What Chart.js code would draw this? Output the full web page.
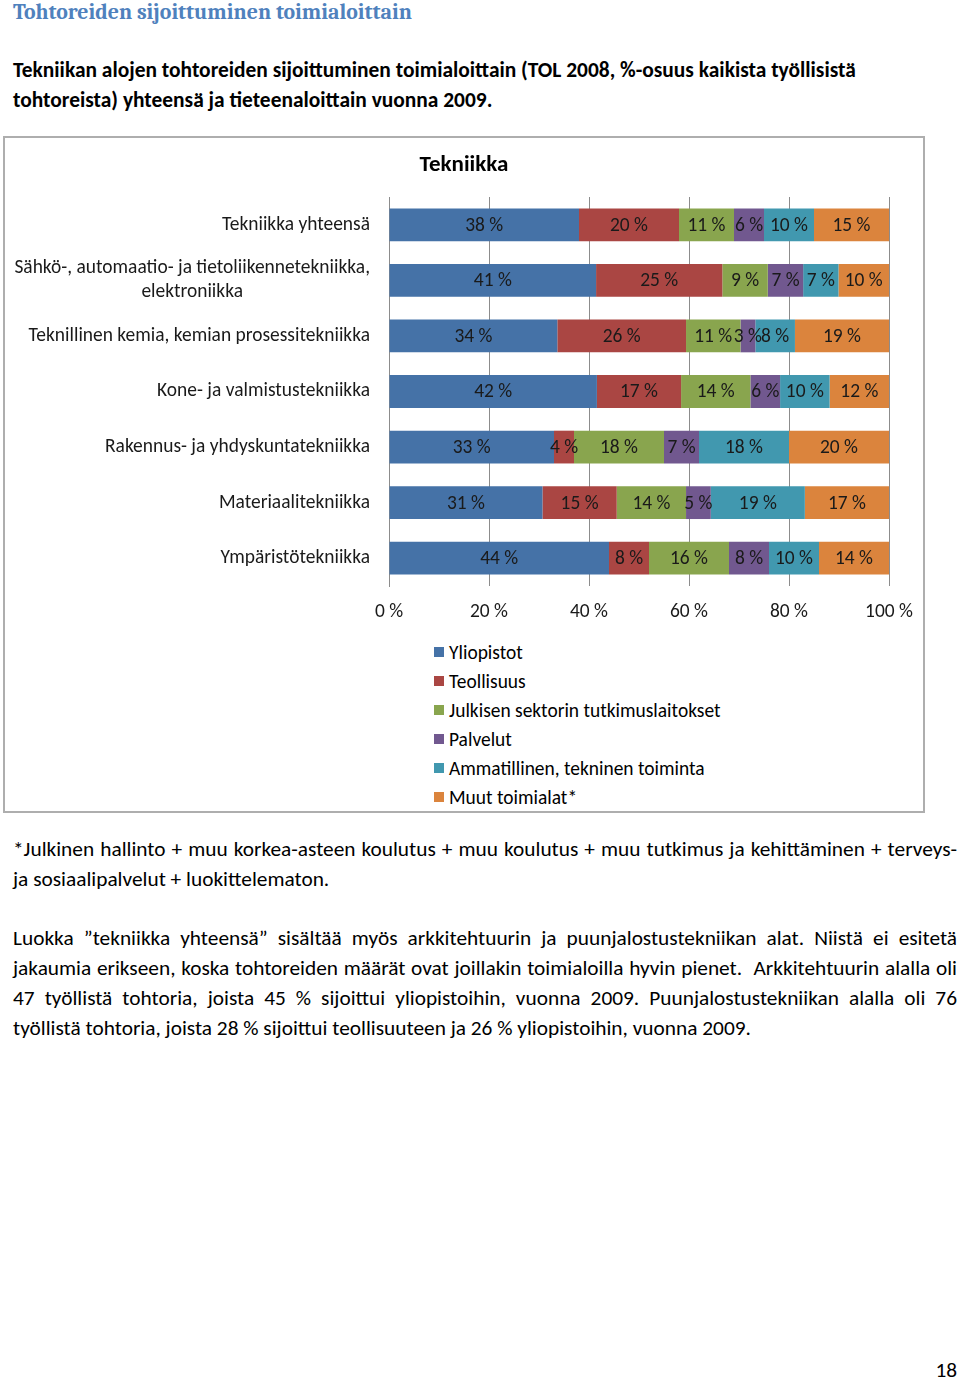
<!DOCTYPE html>
<html><head><meta charset="utf-8">
<script src="https://cdn.jsdelivr.net/npm/chart.js@4.4.1/dist/chart.umd.min.js"></script>
<style>
html,body{margin:0;padding:0;background:#fff;}
body{width:960px;height:1379px;position:relative;overflow:hidden;color:#000;}
.abs{position:absolute;white-space:nowrap;}
#box{position:absolute;left:3px;top:136px;width:922px;height:677px;box-sizing:border-box;border:2px solid #aeaeae;}
#cv{position:absolute;left:0;top:136px;}
.jl{position:absolute;left:13px;width:944px;height:30px;line-height:30px;white-space:nowrap;text-align:justify;text-align-last:justify;}
.ll{position:absolute;left:13px;height:30px;line-height:30px;white-space:nowrap;}
.lg{position:absolute;left:434px;height:29px;line-height:29px;white-space:nowrap;}
.lg span.sq{position:absolute;left:0;top:9px;width:10px;height:10px;}
.lg span.tx{position:absolute;left:15px;top:0;}
</style>
</head>
<body>
<div id="h1" class="abs" style="left:13px;top:0;height:24px;line-height:24px;color:#4F81BD;font-weight:bold;">Tohtoreiden sijoittuminen toimialoittain</div>
<div id="sub1" class="abs" style="left:13px;top:55px;height:30px;line-height:30px;font-weight:bold;">Tekniikan alojen tohtoreiden sijoittuminen toimialoittain (TOL 2008, %-osuus kaikista työllisistä</div>
<div id="sub2" class="abs" style="left:13px;top:85px;height:30px;line-height:30px;font-weight:bold;">tohtoreista) yhteensä ja tieteenaloittain vuonna 2009.</div>
<div id="box"></div>
<canvas id="cv" width="960" height="490"></canvas>
<div id="legend"></div>
<div class="jl body" style="top:834px;">*Julkinen hallinto + muu korkea-asteen koulutus + muu koulutus + muu tutkimus ja kehittäminen + terveys-</div>
<div class="ll body" style="top:864px;">ja sosiaalipalvelut + luokittelematon.</div>
<div class="jl body" style="top:923px;">Luokka ”tekniikka yhteensä” sisältää myös arkkitehtuurin ja puunjalostustekniikan alat. Niistä ei esitetä</div>
<div class="jl body" style="top:953px;">jakaumia erikseen, koska tohtoreiden määrät ovat joillakin toimialoilla hyvin pienet.&nbsp; Arkkitehtuurin alalla oli</div>
<div class="jl body" style="top:983px;">47 työllistä tohtoria, joista 45 % sijoittui yliopistoihin, vuonna 2009. Puunjalostustekniikan alalla oli 76</div>
<div id="last" class="ll body" style="top:1013px;">työllistä tohtoria, joista 28 % sijoittui teollisuuteen ja 26 % yliopistoihin, vuonna 2009.</div>
<div id="pg" class="abs body" style="right:3px;top:1356px;height:28px;line-height:28px;">18</div>
<script>
// ---- data ----
const categories = [
  'Tekniikka yhteensä',
  ['Sähkö-, automaatio- ja tietoliikennetekniikka,', 'elektroniikka'],
  'Teknillinen kemia, kemian prosessitekniikka',
  'Kone- ja valmistustekniikka',
  'Rakennus- ja yhdyskuntatekniikka',
  'Materiaalitekniikka',
  'Ympäristötekniikka'
];
const seriesNames = ['Yliopistot', 'Teollisuus', 'Julkisen sektorin tutkimuslaitokset', 'Palvelut', 'Ammatillinen, tekninen toiminta', 'Muut toimialat*'];
const yliopistot   = [38, 41, 34, 42, 33, 31, 44];
const teollisuus   = [20, 25, 26, 17, 4, 15, 8];
const julkinen     = [11, 9, 11, 14, 18, 14, 16];
const palvelut     = [6, 7, 3, 6, 7, 5, 8];
const ammatillinen = [10, 7, 8, 10, 18, 19, 10];
const muut         = [15, 10, 19, 12, 20, 17, 14];
const xTicks = [0, 20, 40, 60, 80, 100];
const chartTitle = 'Tekniikka';
const seriesColors = ['#4572A7', '#AA4643', '#89A54E', '#71588F', '#4198AF', '#DB843D'];

// ---- fonts ----
const sansFam = 'Carlito, Lato, "Open Sans", sans-serif';
const serifFam = 'Caladea, "Liberation Serif", serif';
function fitSize(text, weight, family, target) {
  const c = document.createElement('canvas').getContext('2d');
  c.font = weight + ' 100px ' + family;
  return 100 * target / c.measureText(text).width;
}
const h1Size = fitSize('Tohtoreiden sijoittuminen toimialoittain', 'bold', serifFam, 399);
const subSize = fitSize('Tekniikan alojen tohtoreiden sijoittuminen toimialoittain (TOL 2008, %-osuus kaikista työllisistä', 'bold', sansFam, 843);
const bodySize = fitSize('työllistä tohtoria, joista 28 % sijoittui teollisuuteen ja 26 % yliopistoihin, vuonna 2009.', 'normal', sansFam, 738);
const chartSize = fitSize('Sähkö-, automaatio- ja tietoliikennetekniikka,', 'normal', sansFam, 356);
const titleSize = fitSize(chartTitle, 'bold', sansFam, 89);

const h1 = document.getElementById('h1');
h1.style.fontFamily = serifFam; h1.style.fontSize = h1Size + 'px';
['sub1','sub2'].forEach(id => { const e = document.getElementById(id); e.style.fontFamily = sansFam; e.style.fontSize = subSize + 'px'; });
document.querySelectorAll('.body').forEach(e => { e.style.fontFamily = sansFam; e.style.fontSize = bodySize + 'px'; });

// legend (HTML, from series arrays)
const lg = document.getElementById('legend');
seriesNames.forEach((n, i) => {
  const d = document.createElement('div');
  d.className = 'lg';
  d.style.top = (652 + 29 * i - 14.5) + 'px';
  d.style.fontFamily = sansFam; d.style.fontSize = chartSize + 'px';
  d.innerHTML = '<span class="sq" style="background:' + seriesColors[i] + '"></span><span class="tx"></span>';
  d.querySelector('.tx').textContent = n;
  lg.appendChild(d);
});

// ---- chart ----
const allSeries = [yliopistot, teollisuus, julkinen, palvelut, ammatillinen, muut];
const rowSum = categories.map((_, i) => allSeries.reduce((s, a) => s + a[i], 0));

const dataLabels = {
  id: 'dataLabels',
  afterDatasetsDraw(chart) {
    const ctx = chart.ctx;
    ctx.save();
    ctx.font = chartSize + 'px ' + sansFam;
    ctx.fillStyle = '#1a1a1a';
    ctx.textAlign = 'center';
    ctx.textBaseline = 'middle';
    chart.data.datasets.forEach((ds, k) => {
      chart.getDatasetMeta(k).data.forEach((el, i) => {
        const p = el.getProps(['x', 'y', 'base'], true);
        ctx.fillText(ds.raw[i] + ' %', (p.x + p.base) / 2, p.y + 1);
      });
    });
    ctx.restore();
  }
};
const yLabels = {
  id: 'yLabels',
  afterDraw(chart) {
    const ctx = chart.ctx, ys = chart.scales.y;
    ctx.save();
    ctx.font = chartSize + 'px ' + sansFam;
    ctx.fillStyle = '#1a1a1a';
    ctx.textAlign = 'center';
    ctx.textBaseline = 'middle';
    const right = 370, lh = 24;
    chart.data.labels.forEach((lab, i) => {
      const lines = Array.isArray(lab) ? lab : [lab];
      const w = Math.max(...lines.map(l => ctx.measureText(l).width));
      const cx = right - w / 2;
      const yc = ys.getPixelForTick(i);
      lines.forEach((l, j) => {
        ctx.fillText(l, cx, yc + (j - (lines.length - 1) / 2) * lh);
      });
    });
    ctx.restore();
  }
};
// chart title centred over the whole chart frame (frame centre x = 464)
const frameTitle = {
  id: 'frameTitle',
  afterDraw(chart) {
    const ctx = chart.ctx;
    ctx.save();
    ctx.font = 'bold ' + titleSize + 'px ' + sansFam;
    ctx.fillStyle = '#000';
    ctx.textAlign = 'center';
    ctx.textBaseline = 'middle';
    ctx.fillText(chartTitle, 464, 29);
    ctx.restore();
  }
};

Chart.defaults.font.family = sansFam;
Chart.defaults.font.size = chartSize;
Chart.defaults.color = '#1a1a1a';

new Chart(document.getElementById('cv'), {
  type: 'bar',
  data: {
    labels: categories,
    datasets: allSeries.map((arr, k) => ({
      label: seriesNames[k],
      data: arr.map((v, i) => v / rowSum[i] * 100),
      raw: arr,
      backgroundColor: seriesColors[k],
      borderWidth: 0,
      barPercentage: 0.59,
      categoryPercentage: 1
    }))
  },
  options: {
    indexAxis: 'y',
    responsive: false,
    animation: false,
    devicePixelRatio: 1,
    layout: { padding: { left: 0, right: 71, top: 61, bottom: 0 } },
    plugins: {
      legend: { display: false },
      tooltip: { enabled: false },
      title: { display: false }
    },
    scales: {
      x: {
        stacked: true, min: 0, max: 100,
        afterBuildTicks: s => { s.ticks = xTicks.map(v => ({ value: v })); },
        ticks: { callback: v => v + ' %', padding: 26 - chartSize * 0.6, maxRotation: 0, autoSkip: false, color: '#1a1a1a' },
        grid: { color: '#8c8c8c', drawTicks: false, lineWidth: 1 },
        border: { display: false },
        afterFit: s => { s.height = 40; }
      },
      y: {
        stacked: true,
        ticks: { display: false },
        grid: { display: false },
        border: { display: true, color: '#8c8c8c' },
        afterFit: s => { s.width = 389; }
      }
    }
  },
  plugins: [dataLabels, yLabels, frameTitle]
});
</script>
</body></html>
